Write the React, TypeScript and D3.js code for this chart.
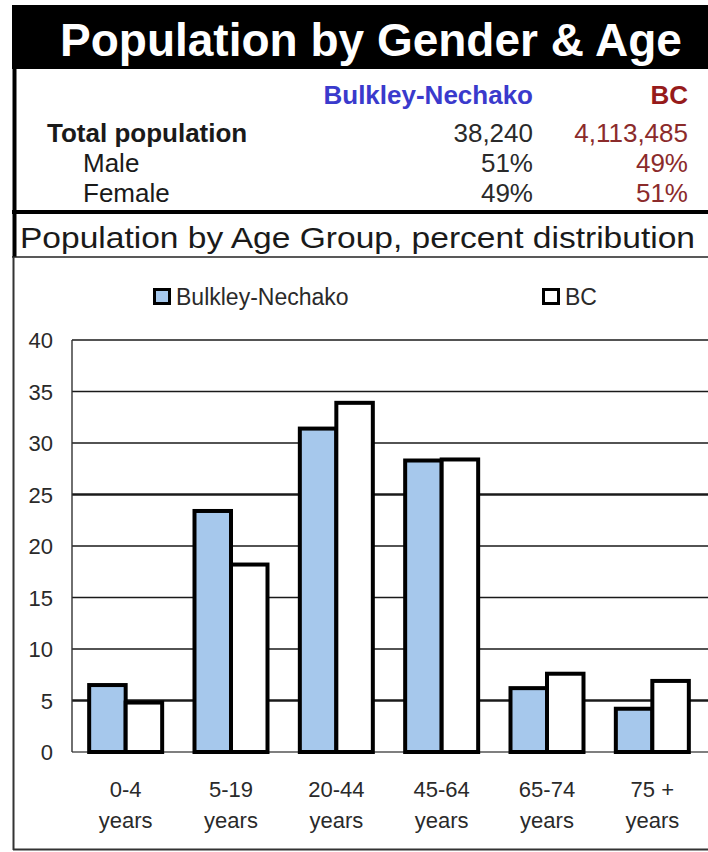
import * as React from 'react';
import * as d3 from 'd3';

const ageGroups = ['0-4', '5-19', '20-44', '45-64', '65-74', '75 +'];
const seriesNames = ['Bulkley-Nechako', 'BC'];
const bulkleyValues = [6.5, 23.4, 31.4, 28.3, 6.2, 4.2];
const bcValues = [4.8, 18.2, 33.9, 28.4, 7.6, 6.9];
const yTicks = [0, 5, 10, 15, 20, 25, 30, 35, 40];

const tableRows = ['Total population', 'Male', 'Female'];
const tableRegion = ['38,240', '51%', '49%'];
const tableBC = ['4,113,485', '49%', '51%'];

const W = 708;
const H = 852;
const FONT = "'Liberation Sans', Arial, sans-serif";

const App = () => {
  const nodeRef = React.useRef<SVGSVGElement>(null);

  React.useEffect(() => {
    const svg = d3.select(nodeRef.current);
    svg.selectAll('*').remove();

    // header band
    svg.append('rect').attr('x', 12).attr('y', 5).attr('width', W - 12).attr('height', 64).attr('fill', '#000');
    svg.append('text')
      .attr('x', 60).attr('y', 56)
      .attr('font-family', FONT).attr('font-weight', 'bold').attr('font-size', 46)
      .attr('fill', '#fff')
      .text('Population by Gender & Age');

    // table
    svg.append('text')
      .attr('x', 533).attr('y', 104).attr('text-anchor', 'end')
      .attr('font-family', FONT).attr('font-weight', 'bold').attr('font-size', 26)
      .attr('fill', '#3a3acc').text(seriesNames[0]);
    svg.append('text')
      .attr('x', 688).attr('y', 104).attr('text-anchor', 'end')
      .attr('font-family', FONT).attr('font-weight', 'bold').attr('font-size', 26)
      .attr('fill', '#961b1b').text(seriesNames[1]);

    const rowY = [142, 172, 202];
    tableRows.forEach((label, i) => {
      svg.append('text')
        .attr('x', i === 0 ? 47 : 83).attr('y', rowY[i])
        .attr('font-family', FONT).attr('font-size', 26)
        .attr('font-weight', i === 0 ? 'bold' : 'normal')
        .attr('fill', '#1a1a1a').text(label);
      svg.append('text')
        .attr('x', 533).attr('y', rowY[i]).attr('text-anchor', 'end')
        .attr('font-family', FONT).attr('font-size', 26)
        .attr('fill', '#2a2a2a').text(tableRegion[i]);
      svg.append('text')
        .attr('x', 688).attr('y', rowY[i]).attr('text-anchor', 'end')
        .attr('font-family', FONT).attr('font-size', 26)
        .attr('fill', '#8b2b2b').text(tableBC[i]);
    });

    svg.append('line').attr('x1', 12).attr('x2', W).attr('y1', 212).attr('y2', 212)
      .attr('stroke', '#000').attr('stroke-width', 4);
    svg.append('line').attr('x1', 14.5).attr('x2', 14.5).attr('y1', 68).attr('y2', 257)
      .attr('stroke', '#000').attr('stroke-width', 4);

    svg.append('text')
      .attr('x', 20).attr('y', 248)
      .attr('font-family', FONT).attr('font-size', 30)
      .attr('textLength', 675).attr('lengthAdjust', 'spacingAndGlyphs')
      .attr('fill', '#1a1a1a').text('Population by Age Group, percent distribution');

    svg.append('line').attr('x1', 12).attr('x2', W).attr('y1', 257).attr('y2', 257)
      .attr('stroke', '#222').attr('stroke-width', 1.5);

    // chart frame
    svg.append('line').attr('x1', 13.5).attr('x2', 13.5).attr('y1', 257).attr('y2', 850)
      .attr('stroke', '#333').attr('stroke-width', 2);
    svg.append('line').attr('x1', 13).attr('x2', W).attr('y1', 849.5).attr('y2', 849.5)
      .attr('stroke', '#333').attr('stroke-width', 2);

    // legend
    const legend = [
      { name: seriesNames[0], fill: '#a6c8ec', x: 153 },
      { name: seriesNames[1], fill: '#fff', x: 542 }
    ];
    legend.forEach(d => {
      svg.append('rect').attr('x', d.x + 1.5).attr('y', 289.5).attr('width', 15).attr('height', 14)
        .attr('fill', d.fill).attr('stroke', '#000').attr('stroke-width', 3);
      svg.append('text').attr('x', d.x + 23).attr('y', 305)
        .attr('font-family', FONT).attr('font-size', 23).attr('fill', '#2a2a2a').text(d.name);
    });

    // plot
    const plotLeft = 73;
    const plotRight = 705;
    const y = d3.scaleLinear().domain([0, 40]).range([752, 340]);
    const x0 = d3.scaleBand().domain(ageGroups).range([plotLeft, plotRight])
      .paddingInner(0.307).paddingOuter(0.1535);
    const x1 = d3.scaleBand().domain(seriesNames).range([0, x0.bandwidth()]);

    const g = svg.append('g');
    g.selectAll('.grid')
      .data(yTicks)
      .enter()
      .append('line')
      .attr('class', 'grid')
      .attr('x1', 72).attr('x2', W)
      .attr('y1', d => y(d)).attr('y2', d => y(d))
      .attr('stroke', d => (d === 0 ? '#555' : '#1a1a1a'))
      .attr('stroke-width', d => (d === 25 || d === 5 ? 2.6 : 1.4));

    g.append('line').attr('x1', 72).attr('x2', 72).attr('y1', y(40)).attr('y2', y(0))
      .attr('stroke', '#333').attr('stroke-width', 1.4);

    g.selectAll('.tick-label')
      .data(yTicks)
      .enter()
      .append('text')
      .attr('class', 'tick-label')
      .attr('x', 53).attr('y', d => y(d) + 8)
      .attr('text-anchor', 'end')
      .attr('font-family', FONT).attr('font-size', 22).attr('fill', '#2a2a2a')
      .text(d => d);

    const data = ageGroups.map((a, i) => ({
      age: a,
      values: [
        { key: seriesNames[0], v: bulkleyValues[i], fill: '#a6c8ec' },
        { key: seriesNames[1], v: bcValues[i], fill: '#fff' }
      ]
    }));

    const groups = g.selectAll('.grp')
      .data(data)
      .enter()
      .append('g')
      .attr('class', 'grp')
      .attr('transform', d => 'translate(' + x0(d.age) + ',0)');

    groups.selectAll('rect')
      .data(d => d.values)
      .enter()
      .append('rect')
      .attr('x', d => x1(d.key))
      .attr('y', d => y(d.v))
      .attr('width', x1.bandwidth())
      .attr('height', d => y(0) - y(d.v))
      .attr('fill', d => d.fill)
      .attr('stroke', '#000')
      .attr('stroke-width', 4);

    // x labels
    const xl = g.selectAll('.x-label')
      .data(ageGroups)
      .enter()
      .append('text')
      .attr('class', 'x-label')
      .attr('text-anchor', 'middle')
      .attr('font-family', FONT).attr('font-size', 22).attr('fill', '#2a2a2a');
    xl.append('tspan').attr('x', d => x0(d) + x0.bandwidth() / 2).attr('y', 797).text(d => d);
    xl.append('tspan').attr('x', d => x0(d) + x0.bandwidth() / 2).attr('y', 828).text('years');
  }, []);

  return (
    <svg
      ref={nodeRef}
      width={W}
      height={H}
      style={{ position: 'absolute', left: 0, top: 0, background: '#fff' }}
    />
  );
};

export default App;
